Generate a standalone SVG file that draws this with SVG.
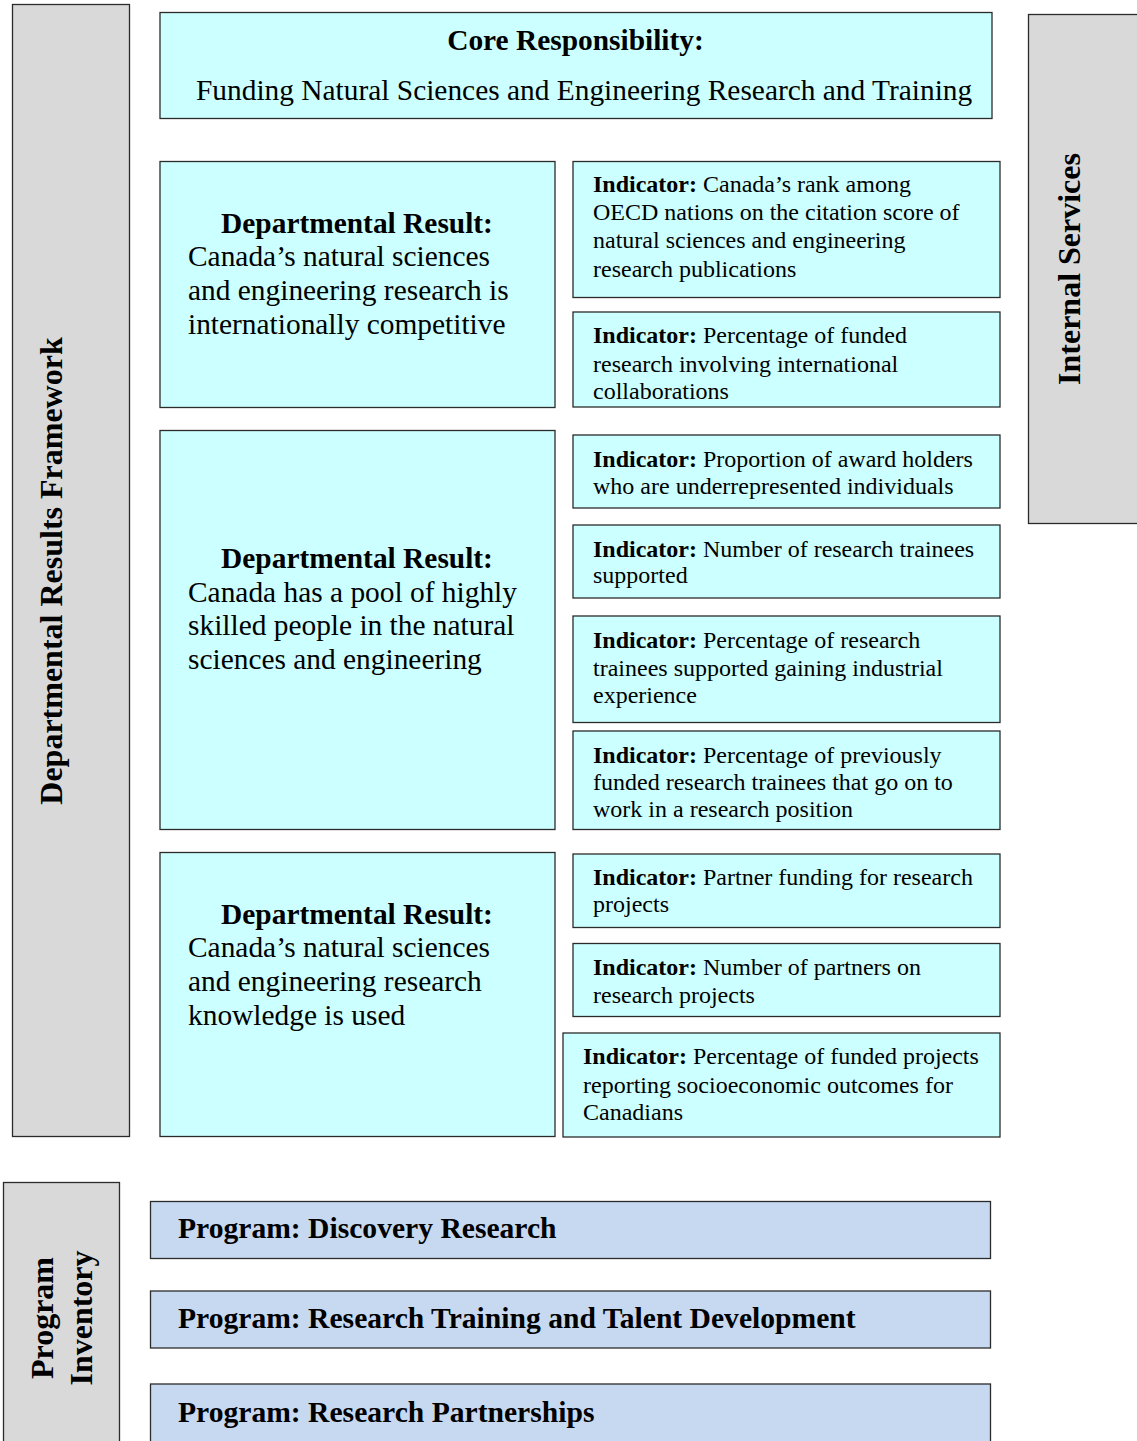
<svg xmlns="http://www.w3.org/2000/svg" width="1137" height="1441" viewBox="0 0 1137 1441">
<style>
text{font-family:"Liberation Serif","Times New Roman",serif;fill:#000}
.box{fill:#CCFFFF;stroke:#2b2b2b;stroke-width:1.3}
.bar{fill:#D9D9D9;stroke:#2b2b2b;stroke-width:1.3}
.prog{fill:#C6D9F1;stroke:#2b2b2b;stroke-width:1.3}
.big{font-size:29.4px}
.pb{font-size:29.6px;font-weight:bold}
.ind{font-size:24px}
.side{font-size:32px;font-weight:bold}
.b{font-weight:bold}
</style>
<rect width="1137" height="1441" fill="#fff"/>
<g id="drf">
<rect class="bar" x="12.5" y="4.5" width="117" height="1132"/>
<text class="side" transform="translate(62,571) rotate(-90)" text-anchor="middle">Departmental Results Framework</text>
</g>
<g id="internal-services">
<rect class="bar" x="1028.5" y="14.5" width="115" height="509"/>
<text class="side" transform="translate(1080,269) rotate(-90)" text-anchor="middle">Internal Services</text>
</g>
<g id="program-inventory">
<rect class="bar" x="3.5" y="1182.5" width="116" height="270"/>
<text class="side" transform="translate(53,1318) rotate(-90)" text-anchor="middle">Program</text>
<text class="side" transform="translate(92,1318) rotate(-90)" text-anchor="middle">Inventory</text>
</g>
<g id="core">
<rect class="box" x="160" y="12.5" width="832" height="106"/>
<text class="big b" x="575.5" y="50" text-anchor="middle">Core Responsibility:</text>
<text class="big" x="196" y="100">Funding Natural Sciences and Engineering Research and Training</text>
</g>
<g id="dr1">
<rect class="box" x="160" y="161.5" width="395" height="246"/>
<text class="big b" x="357" y="233" text-anchor="middle">Departmental Result:</text>
<text class="big" x="188" y="266">Canada’s natural sciences</text>
<text class="big" x="188" y="300">and engineering research is</text>
<text class="big" x="188" y="334">internationally competitive</text>
</g>
<g id="dr2">
<rect class="box" x="160" y="430.5" width="395" height="399"/>
<text class="big b" x="357" y="568" text-anchor="middle">Departmental Result:</text>
<text class="big" x="188" y="602">Canada has a pool of highly</text>
<text class="big" x="188" y="635">skilled people in the natural</text>
<text class="big" x="188" y="669">sciences and engineering</text>
</g>
<g id="dr3">
<rect class="box" x="160" y="852.5" width="395" height="284"/>
<text class="big b" x="357" y="924" text-anchor="middle">Departmental Result:</text>
<text class="big" x="188" y="957">Canada’s natural sciences</text>
<text class="big" x="188" y="991">and engineering research</text>
<text class="big" x="188" y="1025">knowledge is used</text>
</g>
<g id="ind1">
<rect class="box" x="573" y="161.5" width="427" height="136"/>
<text class="ind" x="593" y="192"><tspan class="b">Indicator:</tspan> Canada’s rank among</text>
<text class="ind" x="593" y="220">OECD nations on the citation score of</text>
<text class="ind" x="593" y="248">natural sciences and engineering</text>
<text class="ind" x="593" y="277">research publications</text>
</g>
<g id="ind2">
<rect class="box" x="573" y="312" width="427" height="95"/>
<text class="ind" x="593" y="343"><tspan class="b">Indicator:</tspan> Percentage of funded</text>
<text class="ind" x="593" y="372">research involving international</text>
<text class="ind" x="593" y="399">collaborations</text>
</g>
<g id="ind3">
<rect class="box" x="573" y="435" width="427" height="73"/>
<text class="ind" x="593" y="467"><tspan class="b">Indicator:</tspan> Proportion of award holders</text>
<text class="ind" x="593" y="494">who are underrepresented individuals</text>
</g>
<g id="ind4">
<rect class="box" x="573" y="525" width="427" height="73"/>
<text class="ind" x="593" y="557"><tspan class="b">Indicator:</tspan> Number of research trainees</text>
<text class="ind" x="593" y="583">supported</text>
</g>
<g id="ind5">
<rect class="box" x="573" y="616" width="427" height="106.5"/>
<text class="ind" x="593" y="648"><tspan class="b">Indicator:</tspan> Percentage of research</text>
<text class="ind" x="593" y="676">trainees supported gaining industrial</text>
<text class="ind" x="593" y="703">experience</text>
</g>
<g id="ind6">
<rect class="box" x="573" y="731" width="427" height="98.5"/>
<text class="ind" x="593" y="763"><tspan class="b">Indicator:</tspan> Percentage of previously</text>
<text class="ind" x="593" y="790">funded research trainees that go on to</text>
<text class="ind" x="593" y="817">work in a research position</text>
</g>
<g id="ind7">
<rect class="box" x="573" y="854" width="427" height="73.5"/>
<text class="ind" x="593" y="885"><tspan class="b">Indicator:</tspan> Partner funding for research</text>
<text class="ind" x="593" y="912">projects</text>
</g>
<g id="ind8">
<rect class="box" x="573" y="943.5" width="427" height="73"/>
<text class="ind" x="593" y="975"><tspan class="b">Indicator:</tspan> Number of partners on</text>
<text class="ind" x="593" y="1003">research projects</text>
</g>
<g id="ind9">
<rect class="box" x="563" y="1033" width="437" height="104"/>
<text class="ind" x="583" y="1064"><tspan class="b">Indicator:</tspan> Percentage of funded projects</text>
<text class="ind" x="583" y="1093">reporting socioeconomic outcomes for</text>
<text class="ind" x="583" y="1120">Canadians</text>
</g>
<g id="prog1">
<rect class="prog" x="150.5" y="1201.5" width="840" height="57"/>
<text class="pb" x="178" y="1238">Program: Discovery Research</text>
</g>
<g id="prog2">
<rect class="prog" x="150.5" y="1291" width="840" height="57"/>
<text class="pb" x="178" y="1328">Program: Research Training and Talent Development</text>
</g>
<g id="prog3">
<rect class="prog" x="150.5" y="1384" width="840" height="70"/>
<text class="pb" x="178" y="1422">Program: Research Partnerships</text>
</g>
<g id="connectors"/>
</svg>
